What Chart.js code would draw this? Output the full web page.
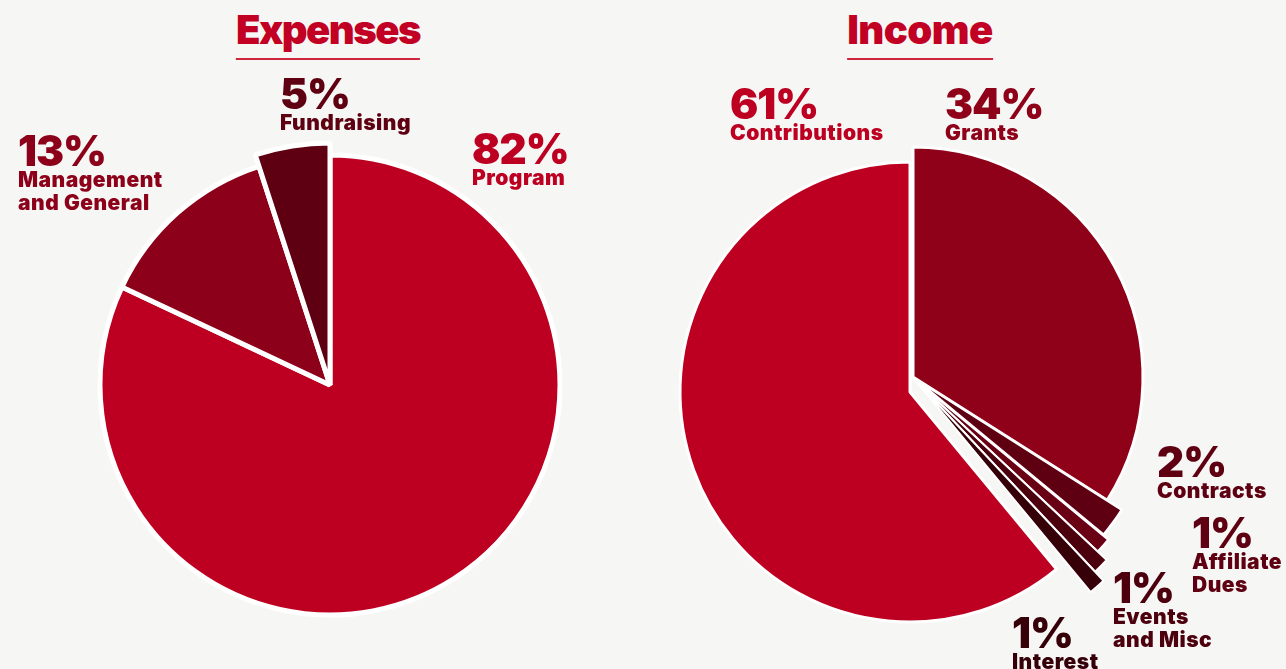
<!DOCTYPE html>
<html>
<head>
<meta charset="utf-8">
<script src="https://cdn.jsdelivr.net/npm/chart.js@4"></script>
<style>
  html, body { margin: 0; padding: 0; background: #f6f6f4; overflow: hidden; }
  body { width: 1286px; height: 669px; position: relative; font-family: Inter, Roboto, "Noto Sans", sans-serif; }
  canvas { position: absolute; }
  .title {
    position: absolute; transform: translateX(-50%);
    font-weight: 900; font-size: 40px; line-height: 42px; color: #c10023;
    padding-bottom: 7px; border-bottom: 2px solid #d0243c; letter-spacing: -0.5px;
  }
  .label { position: absolute; font-weight: 900; z-index: 2; }
  .label .pct { display: block; font-size: 42px; line-height: 34px; letter-spacing: -1px; }
  .label .name { display: block; font-size: 21px; line-height: 23px; letter-spacing: 0.5px; }
</style>
</head>
<body>
<canvas id="expenses-chart" width="640" height="640" style="left:10px; top:65px;"></canvas>
<canvas id="income-chart" width="640" height="640" style="left:591px; top:66px;"></canvas>
<div class="title" style="left:328px; top:9px; letter-spacing:-1.5px;">Expenses</div>
<div class="title" style="left:920px; top:9px;">Income</div>
<div id="labels"></div>

<script>
/*----------------------------------------------- DATA ----------------------------------------------*/
const expenseLabels = ['Program', 'Management\nand General', 'Fundraising'];
const expenseValues = [82, 13, 5];

const incomeLabels = ['Grants', 'Contracts', 'Affiliate\nDues', 'Events\nand Misc', 'Interest', 'Contributions'];
const incomeValues = [34, 2, 1, 1, 1, 61];

/*----------------------------------------------- STYLE ----------------------------------------------*/
const expenseColors = ['#bd0021', '#8c0019', '#5e0011'];
const expenseExtraRadius = [0, 0, 12];
const expenseShift = [[0, 0], [0, 0], [0, 0]];
const expenseLabelPos = [[472, 132], [18, 134], [280, 77]];

const incomeColors = ['#8f0019', '#5e0011', '#6a0014', '#4c000d', '#360008', '#bd0021'];
const incomeExtraRadius = [0, 16, 22, 33, 44, 0];
const incomeShift = [[2, -9], [3, -8], [3, -7], [4, -6], [5, -5], [-1, 6]];
const incomeLabelColors = ['#8f0019', '#5e0011', '#5e0011', '#4c000d', '#360008', '#bd0021'];
const incomeLabelPos = [[945, 87], [1157, 445], [1192, 516], [1113, 571], [1012, 616], [730, 87]];

// moves single slices out of the pie and gives them a longer radius
const sliceNudge = {
  id: 'sliceNudge',
  afterDatasetsUpdate(chart, args, opts) {
    const extra = opts.extra || [];
    const shift = opts.shift || [];
    chart.getDatasetMeta(0).data.forEach((arc, i) => {
      arc.outerRadius += extra[i] || 0;
      if (shift[i]) {
        arc.x += shift[i][0];
        arc.y += shift[i][1];
      }
    });
  }
};

function pieConfig(labels, values, colors, extra, shift, border) {
  return {
    type: 'pie',
    data: {
      labels: labels,
      datasets: [{
        data: values,
        backgroundColor: colors,
        borderColor: '#ffffff',
        borderWidth: border,
        radius: 230
      }]
    },
    options: {
      responsive: false,
      animation: false,
      events: [],
      layout: { padding: 0 },
      plugins: {
        legend: { display: false },
        tooltip: { enabled: false },
        sliceNudge: { extra: extra, shift: shift }
      }
    },
    plugins: [sliceNudge]
  };
}

new Chart(document.getElementById('expenses-chart'),
  pieConfig(expenseLabels, expenseValues, expenseColors, expenseExtraRadius, expenseShift, 5));
new Chart(document.getElementById('income-chart'),
  pieConfig(incomeLabels, incomeValues, incomeColors, incomeExtraRadius, incomeShift, [3, 2.5, 2, 2, 2, 3]));

/*----------------------------------------------- LABELS ----------------------------------------------*/
function addLabels(labels, values, colors, positions) {
  labels.forEach((label, i) => {
    const el = document.createElement('div');
    el.className = 'label';
    el.style.left = positions[i][0] + 'px';
    el.style.top = positions[i][1] + 'px';
    el.style.color = colors[i];
    let html = `<span class="pct">${values[i]}%</span>`;
    label.split('\n').forEach((line) => {
      html += `<span class="name">${line}</span>`;
    });
    el.innerHTML = html;
    document.getElementById('labels').appendChild(el);
  });
}

addLabels(expenseLabels, expenseValues, expenseColors, expenseLabelPos);
addLabels(incomeLabels, incomeValues, incomeLabelColors, incomeLabelPos);
</script>
</body>
</html>
